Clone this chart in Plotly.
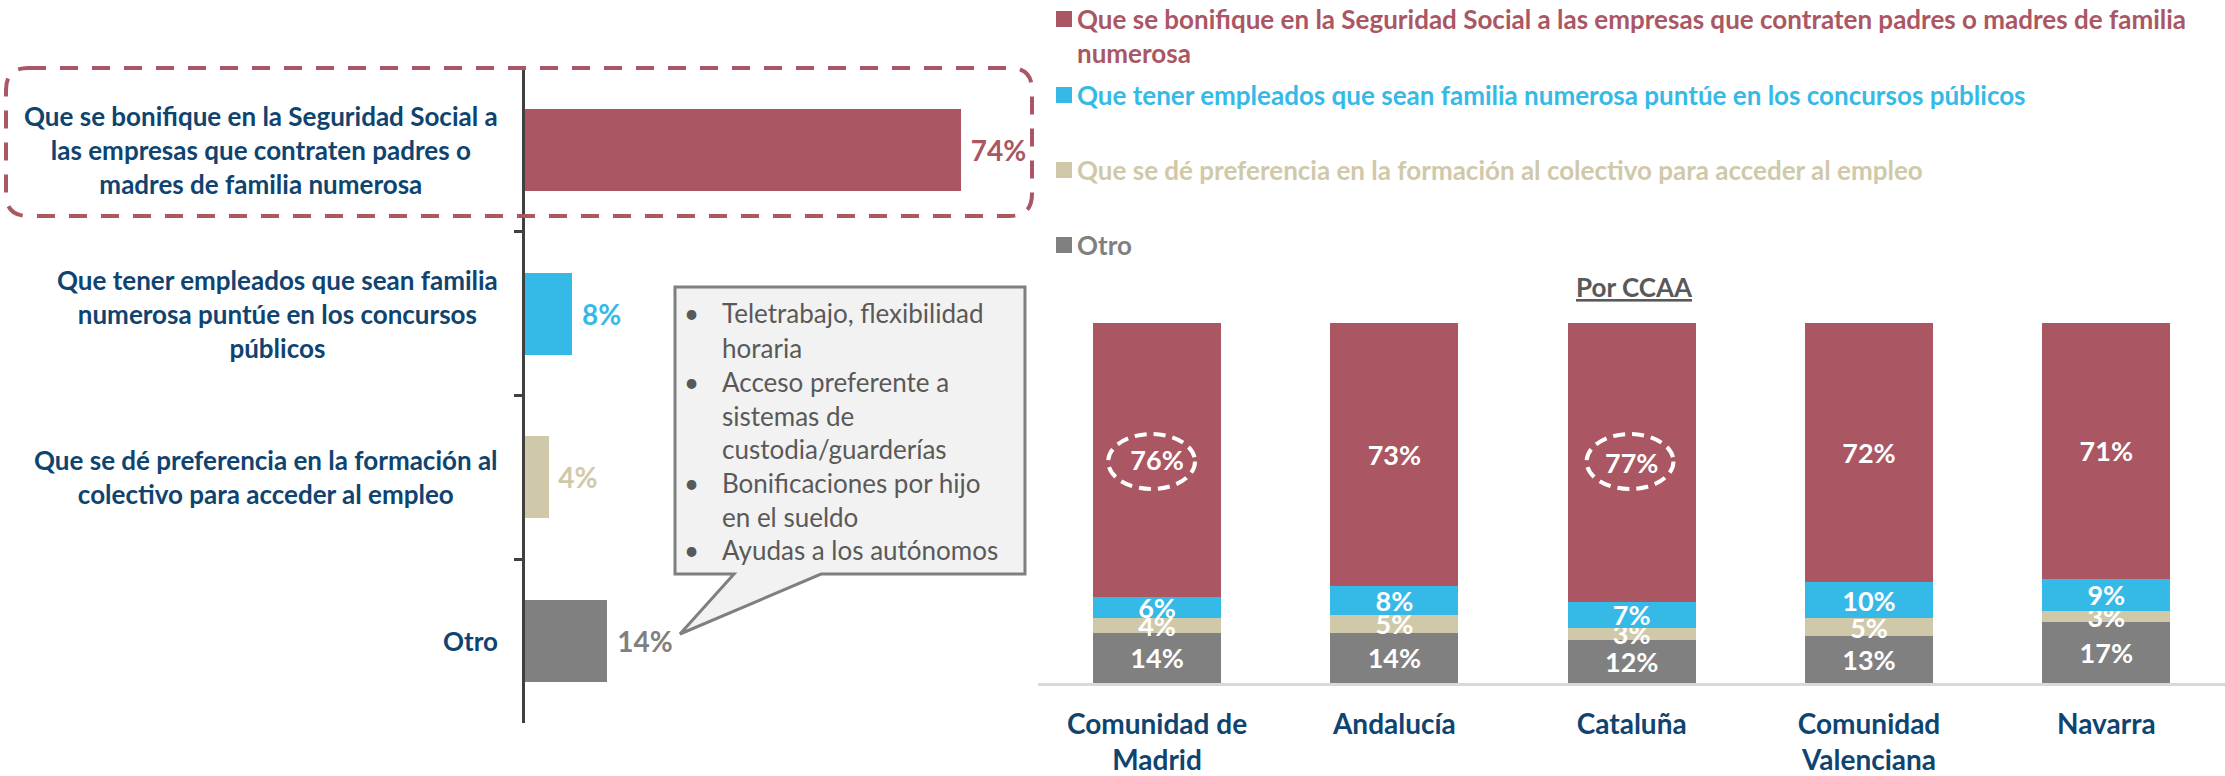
import plotly.graph_objects as go

W, H = 2225, 776

# ---------------- data ----------------
# Left chart (total)
opciones = [
    "Que se bonifique en la Seguridad Social a<br>las empresas que contraten padres o<br>madres de familia numerosa",
    "Que tener empleados que sean familia<br>numerosa puntúe en los concursos<br>públicos",
    "Que se dé preferencia en la formación al<br>colectivo para acceder al empleo",
    "Otro",
]
total_pct = [74, 8, 4, 14]

# Right chart (por CCAA)
ccaa = ["Comunidad de<br>Madrid", "Andalucía", "Cataluña", "Comunidad<br>Valenciana", "Navarra"]
otro = [14, 14, 12.0, 13, 17]
formacion = [4, 5, 3.4, 5, 3]
concursos = [6, 8, 7.2, 10, 9]
bonifique = [76, 73, 77.4, 72, 71]

legend_lines = [
    "Que se bonifique en la Seguridad Social a las empresas que contraten padres o madres de familia<br>numerosa",
    "Que tener empleados que sean familia numerosa puntúe en los concursos públicos",
    "Que se dé preferencia en la formación al colectivo para acceder al empleo",
    "Otro",
]
callout_lines = [
    ("Teletrabajo, flexibilidad", True),
    ("horaria", False),
    ("Acceso preferente a", True),
    ("sistemas de", False),
    ("custodia/guarderías", False),
    ("Bonificaciones por hijo", True),
    ("en el sueldo", False),
    ("Ayudas a los autónomos", True),
]
titulo_ccaa = "Por CCAA"

# ---------------- style ----------------
RED, BLUE, BEIGE, GRAY = "#AA5763", "#35BAE8", "#D0C9A9", "#808080"
NAVY = "#0F4470"
DARK = "#595959"
FONT = "Lato, 'Open Sans', sans-serif"
colors = [RED, BLUE, BEIGE, GRAY]


def px(x):
    return x / W


def py(y):
    return 1 - y / H


def P(x, y):
    return f"{px(x):.5f},{py(y):.5f}"


fig = go.Figure()

# Left horizontal bars
fig.add_trace(go.Bar(
    y=opciones, x=total_pct, orientation="h", width=0.5,
    marker=dict(color=colors, line=dict(width=0)),
    texttemplate="\u00a0%{x}%", textposition="outside", constraintext="none",
    textfont=dict(family=FONT, size=28, color=colors, weight="bold"),
    cliponaxis=False, xaxis="x", yaxis="y", showlegend=False, hoverinfo="skip",
))

# Right stacked bars
for vals, col in [(otro, GRAY), (formacion, BEIGE), (concursos, BLUE), (bonifique, RED)]:
    fig.add_trace(go.Bar(
        x=ccaa, y=vals, width=0.54,
        marker=dict(color=col, line=dict(width=0)),
        texttemplate="%{y:.0f}%", textposition="inside", insidetextanchor="middle",
        constraintext="none",
        textfont=dict(family=FONT, size=27, color="white", weight="bold"),
        xaxis="x2", yaxis="y2", showlegend=False, hoverinfo="skip",
    ))

annotations = []
# Left category labels (centered blocks)
for lab in opciones:
    annotations.append(dict(
        x=px(500), xref="paper", xanchor="right", y=lab, yref="y", yanchor="middle",
        text=lab, align="center", showarrow=False,
        font=dict(family=FONT, size=26, color=NAVY, weight="bold"),
    ))

# Custom legend
leg_y = [36, 95, 170, 245]
sq_y = [19, 95, 170, 245]
shapes = []
for t, c, yy, sy in zip(legend_lines, colors, leg_y, sq_y):
    annotations.append(dict(
        x=px(1075), xref="paper", xanchor="left", y=py(yy), yref="paper", yanchor="middle",
        text=t, align="left", showarrow=False,
        font=dict(family=FONT, size=26, color=c, weight="bold"),
    ))
    shapes.append(dict(type="rect", xref="paper", yref="paper",
                       x0=px(1056), x1=px(1072), y0=py(sy + 8), y1=py(sy - 8),
                       fillcolor=c, line=dict(width=0)))

# Title of right chart
annotations.append(dict(
    x=px(1634), xref="paper", xanchor="center", y=py(287), yref="paper", yanchor="middle",
    text=f"<u>{titulo_ccaa}</u>", showarrow=False,
    font=dict(family=FONT, size=26, color=DARK, weight="bold"),
))

# Callout box with tail
callout_path = ("M " + P(675, 287) + " L " + P(1025, 287) + " L " + P(1025, 574) +
                " L " + P(821, 574) + " L " + P(680, 634) + " L " + P(734, 574) +
                " L " + P(675, 574) + " Z")
shapes.append(dict(type="path", xref="paper", yref="paper", path=callout_path,
                   fillcolor="#F2F2F2", line=dict(color="#7F7F7F", width=3), layer="above"))
line_ys = [313, 348, 382, 416, 449, 483, 517, 550]
for (txt, bullet), yy in zip(callout_lines, line_ys):
    annotations.append(dict(
        x=px(720), xref="paper", xanchor="left", y=py(yy), yref="paper", yanchor="middle",
        text=txt, showarrow=False, align="left",
        font=dict(family=FONT, size=26, color=DARK),
    ))
    if bullet:
        annotations.append(dict(
            x=px(691), xref="paper", xanchor="center", y=py(yy), yref="paper", yanchor="middle",
            text="•", showarrow=False,
            font=dict(family=FONT, size=26, color=DARK),
        ))

# Dashed rounded rectangle around first option
x0, x1, y0, y1, r = 6, 1032, 68, 216, 22
rr = ("M " + P(x0 + r, y0) + " L " + P(x1 - r, y0) + " Q " + P(x1, y0) + " " + P(x1, y0 + r) +
      " L " + P(x1, y1 - r) + " Q " + P(x1, y1) + " " + P(x1 - r, y1) +
      " L " + P(x0 + r, y1) + " Q " + P(x0, y1) + " " + P(x0, y1 - r) +
      " L " + P(x0, y0 + r) + " Q " + P(x0, y0) + " " + P(x0 + r, y0) + " Z")
shapes.append(dict(type="path", xref="paper", yref="paper", path=rr,
                   line=dict(color=RED, width=4, dash="18px,14px"), layer="above"))

# Dashed white ellipses on highlighted values
for ci, (a, b) in [(0, (-0.206, 0.160)), (2, (-0.19, 0.176))]:
    shapes.append(dict(type="circle", xref="x2", yref="paper",
                       x0=ci + a, x1=ci + b, y0=py(489), y1=py(434),
                       line=dict(color="white", width=4, dash="12px,7px"), layer="above"))

fig.update_layout(
    width=W, height=H, margin=dict(l=0, r=0, t=0, b=0),
    paper_bgcolor="white", plot_bgcolor="rgba(0,0,0,0)",
    barmode="stack",
    font=dict(family=FONT),
    xaxis=dict(domain=[px(525), px(525 + 589)], range=[0, 100], visible=False, anchor="y"),
    yaxis=dict(domain=[py(723), py(68)], type="category", range=[3.5, -0.5], anchor="x",
               showline=True, linecolor="#404040", linewidth=3, ticks="outside",
               tickson="boundaries", ticklen=8, tickwidth=3, tickcolor="#404040",
               showticklabels=False, showgrid=False, zeroline=False),
    xaxis2=dict(domain=[px(1038.4), 1.0], type="category", range=[-0.5, 4.5], anchor="y2",
                showline=True, linecolor="#D9D9D9", linewidth=3, ticks="",
                tickfont=dict(family=FONT, size=28, color=NAVY, weight="bold"),
                ticklabelstandoff=14, showgrid=False),
    yaxis2=dict(domain=[py(683), py(323)], range=[0, 100], visible=False, anchor="x2"),
    annotations=annotations, shapes=shapes,
)

fig.write_html(
    "out.html",
    config={"displayModeBar": False},
    post_script="document.body.style.margin='0';document.body.style.overflow='hidden';",
)
